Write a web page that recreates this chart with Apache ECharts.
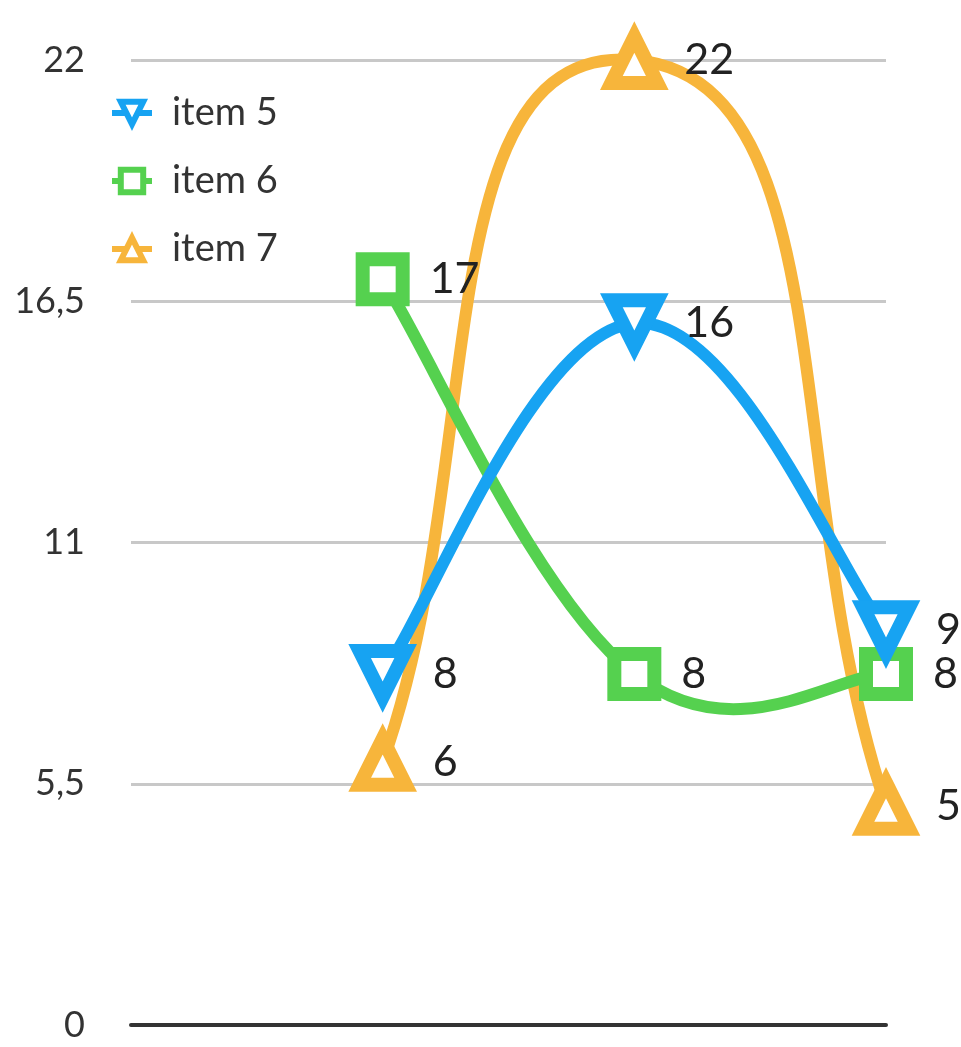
<!DOCTYPE html>
<html>
<head>
<meta charset="utf-8">
<script src="https://cdn.jsdelivr.net/npm/echarts@6/dist/echarts.min.js"></script>
<style>
  html, body { margin: 0; padding: 0; background: #fff; }
  #chart { width: 961px; height: 1047px; }
</style>
</head>
<body>
<div id="chart"></div>
<script>
// categories (first slot is empty in the reference)
const categories = ['', 'A', 'B', 'C'];
const item5 = [null, 8, 16, 9];
const item6 = [null, 17, 8, 8];
const item7 = [null, 6, 22, 5];
const yTicks = [0, 5.5, 11, 16.5, 22];

const chart = echarts.init(document.getElementById('chart'));

// cubic curve through the points, control points from the neighbours
function curveSeries(values, color, intensity) {
    const pts = values.map((v, i) => [i, v]).filter(p => p[1] != null);
    return {
        type: 'custom',
        coordinateSystem: 'cartesian2d',
        data: pts,
        encode: {x: 0, y: 1},
        silent: true,
        z: 1,
        renderItem: function (params, api) {
            const j = params.dataIndex;
            if (j >= pts.length - 1) return;
            const pp = api.coord(pts[Math.max(j - 1, 0)]);
            const p0 = api.coord(pts[j]);
            const p1 = api.coord(pts[j + 1]);
            const pn = api.coord(pts[Math.min(j + 2, pts.length - 1)]);
            return {
                type: 'bezierCurve',
                shape: {
                    x1: p0[0], y1: p0[1],
                    cpx1: p0[0] + (p1[0] - pp[0]) * intensity,
                    cpy1: p0[1] + (p1[1] - pp[1]) * intensity,
                    cpx2: p1[0] - (pn[0] - p0[0]) * intensity,
                    cpy2: p1[1] - (pn[1] - p0[1]) * intensity,
                    x2: p1[0], y2: p1[1]
                },
                style: {stroke: color, lineWidth: 12, fill: null}
            };
        }
    };
}

function pointSeries(name, data, color, symbol, rotate, size) {
    return {
        name: name,
        type: 'line',
        data: data,
        z: 2,
        symbol: symbol,
        symbolRotate: rotate,
        symbolSize: size,
        lineStyle: {color: color, width: 6, opacity: 0},
        itemStyle: {color: '#fff', borderColor: color, borderWidth: 14},
        label: {
            show: true,
            position: 'right',
            distance: 20,
            color: '#222',
            fontFamily: 'Lato',
            fontSize: 43
        }
    };
}

const colors = {item5: '#17a3f2', item6: '#55d14f', item7: '#f7b53b'};

chart.setOption({
    animation: false,
    backgroundColor: '#fff',
    grid: {left: 131, right: 75, top: 60, bottom: 22},
    legend: {
        orient: 'vertical',
        left: 104,
        top: 89,
        itemWidth: 40,
        itemHeight: 28,
        itemGap: 30,
        data: ['item 5', 'item 6', 'item 7'],
        itemStyle: {borderWidth: 6},
        lineStyle: {width: 6, opacity: 1},
        textStyle: {fontFamily: 'Lato', fontSize: 38, color: '#333', padding: [0, 0, 0, 15]}
    },
    xAxis: {
        type: 'category',
        data: categories,
        boundaryGap: false,
        axisLine: {lineStyle: {color: '#333', width: 4}},
        axisTick: {show: false},
        axisLabel: {show: false},
        splitLine: {show: false}
    },
    yAxis: {
        type: 'value',
        min: yTicks[0],
        max: yTicks[yTicks.length - 1],
        interval: 5.5,
        axisLine: {show: false},
        axisTick: {show: false},
        axisLabel: {
            margin: 46,
            color: '#333',
            fontFamily: 'Lato',
            fontSize: 36,
            formatter: v => String(v).replace('.', ',')
        },
        splitLine: {lineStyle: {color: '#c8c8c8', width: 3}}
    },
    series: [
        curveSeries(item7, colors.item7, 0.42),
        curveSeries(item6, colors.item6, 0.2),
        curveSeries(item5, colors.item5, 0.2),
        pointSeries('item 7', item7, colors.item7, 'triangle', 0, 46),
        pointSeries('item 6', item6, colors.item6, 'rect', 0, 40),
        pointSeries('item 5', item5, colors.item5, 'triangle', 180, 46)
    ]
});
</script>
</body>
</html>
